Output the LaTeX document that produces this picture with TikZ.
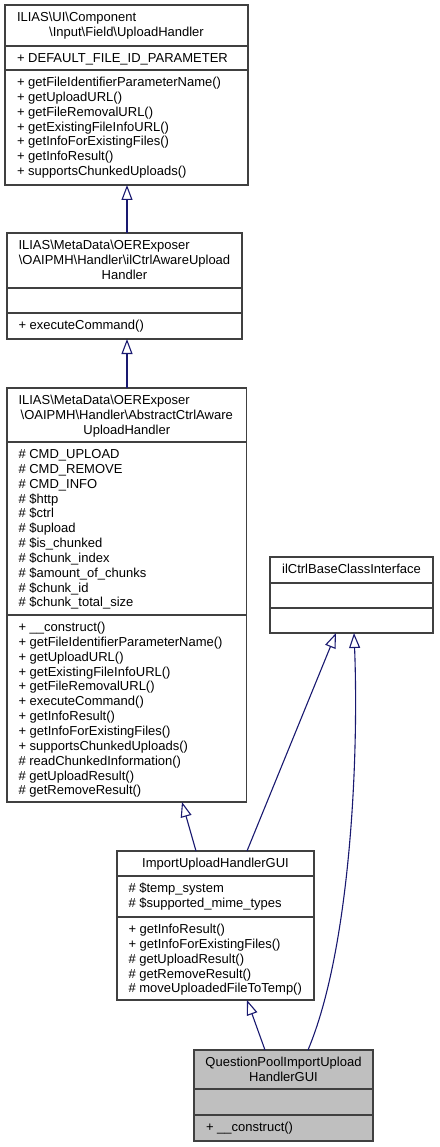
\documentclass[tikz,border=0pt]{standalone}
\usepackage{fontspec}
\setmainfont{Liberation Sans}
\usetikzlibrary{arrows.meta}
\definecolor{boxgray}{HTML}{404040}
\definecolor{edgeblue}{HTML}{191970}
\definecolor{focusfill}{HTML}{BFBFBF}
\newcommand\fsz{\fontsize{13}{14.85}\selectfont}
\newcommand\mlines[1]{\begin{tabular}{@{}l@{}}#1\end{tabular}}
\newcommand\bs{\textbackslash}
\tikzset{
  cls/.style={draw=boxgray, line width=1.3pt, fill=white, inner sep=0pt, outer sep=0pt, anchor=north west},
  div/.style={draw=boxgray, line width=1.3pt},
  sec/.style={inner sep=0pt, outer sep=0pt, anchor=north west, font=\fsz},
  ttl/.style={inner sep=0pt, outer sep=0pt, font=\fsz},
  inh/.style={draw=edgeblue, line width=1.1pt, -{Triangle[open,length=15pt,width=11pt]}},
}
\begin{document}
\begin{tikzpicture}[x=1pt,y=-1pt]
\useasboundingbox (0,0) rectangle (439,1147);

% ---------- Box 1 ----------
\node[cls, minimum width=243pt, minimum height=180pt] (b1) at (5,5) {};
\draw[div] (5,46) -- (248,46);
\draw[div] (5,70) -- (248,70);
\node[ttl, anchor=base west] (b1t1) at (17,21.5) {ILIAS\bs UI\bs Component};
\node[ttl, anchor=base] (b1t2) at (126.5,36.35) {\bs Input\bs Field\bs UploadHandler};
\node[sec] (b1a) at (17,52.1) {\mlines{+ DEFAULT\_FILE\_ID\_PARAMETER}};
\node[sec] (b1m) at (17,76.1) {\mlines{+ getFileIdentifierParameterName()\\
+ getUploadURL()\\
+ getFileRemovalURL()\\
+ getExistingFileInfoURL()\\
+ getInfoForExistingFiles()\\
+ getInfoResult()\\
+ supportsChunkedUploads()}};

% ---------- Box 2 ----------
\node[cls, minimum width=235pt, minimum height=106pt] (b2) at (7,233) {};
\draw[div] (7,288) -- (242,288);
\draw[div] (7,313) -- (242,313);
\node[ttl, anchor=base west] (b2t1) at (18.5,249.5) {ILIAS\bs MetaData\bs OERExposer};
\node[ttl, anchor=base] (b2t2) at (124.5,264.35) {\bs OAIPMH\bs Handler\bs ilCtrlAwareUpload};
\node[ttl, anchor=base] (b2t3) at (124.5,279.2) {Handler};
\node[sec] (b2m) at (18.5,319.1) {\mlines{+ executeCommand()}};

% ---------- Box 3 ----------
\node[cls, minimum width=239.5pt, minimum height=414pt] (b3) at (7,388) {};
\draw[div] (7,442) -- (246.5,442);
\draw[div] (7,615) -- (246.5,615);
\node[ttl, anchor=base west] (b3t1) at (18.5,404.5) {ILIAS\bs MetaData\bs OERExposer};
\node[ttl, anchor=base] (b3t2) at (126.75,419.35) {\bs OAIPMH\bs Handler\bs AbstractCtrlAware};
\node[ttl, anchor=base] (b3t3) at (126.75,434.2) {UploadHandler};
\node[sec] (b3a) at (18.5,448.1) {\mlines{\# CMD\_UPLOAD\\
\# CMD\_REMOVE\\
\# CMD\_INFO\\
\# \$http\\
\# \$ctrl\\
\# \$upload\\
\# \$is\_chunked\\
\# \$chunk\_index\\
\# \$amount\_of\_chunks\\
\# \$chunk\_id\\
\# \$chunk\_total\_size}};
\node[sec] (b3m) at (18.5,621.1) {\mlines{+ \_\_construct()\\
+ getFileIdentifierParameterName()\\
+ getUploadURL()\\
+ getExistingFileInfoURL()\\
+ getFileRemovalURL()\\
+ executeCommand()\\
+ getInfoResult()\\
+ getInfoForExistingFiles()\\
+ supportsChunkedUploads()\\
\# readChunkedInformation()\\
\# getUploadResult()\\
\# getRemoveResult()}};

% ---------- Box 4 ----------
\node[cls, minimum width=163pt, minimum height=76pt] (b4) at (270,557) {};
\draw[div] (270,583) -- (433,583);
\draw[div] (270,608) -- (433,608);
\node[ttl, anchor=base] (b4t) at (351.5,573.5) {ilCtrlBaseClassInterface};

% ---------- Box 5 ----------
\node[cls, minimum width=197pt, minimum height=149pt] (b5) at (117,851) {};
\draw[div] (117,876) -- (314,876);
\draw[div] (117,917) -- (314,917);
\node[ttl, anchor=base] (b5t) at (215.5,867.5) {ImportUploadHandlerGUI};
\node[sec] (b5a) at (128.5,882.1) {\mlines{\# \$temp\_system\\
\# \$supported\_mime\_types}};
\node[sec] (b5m) at (128.5,923.1) {\mlines{+ getInfoResult()\\
+ getInfoForExistingFiles()\\
\# getUploadResult()\\
\# getRemoveResult()\\
\# moveUploadedFileToTemp()}};

% ---------- Box 6 ----------
\node[cls, fill=focusfill, minimum width=179pt, minimum height=91pt] (b6) at (194,1050) {};
\draw[div] (194,1089) -- (373,1089);
\draw[div] (194,1115) -- (373,1115);
\node[ttl, anchor=base] (b6t1) at (283.5,1066.5) {QuestionPoolImportUpload};
\node[ttl, anchor=base] (b6t2) at (283.5,1081.35) {HandlerGUI};
\node[sec] (b6m) at (206,1121.1) {\mlines{+ \_\_construct()}};

% ---------- Connectors ----------
\draw[inh] ([xshift=2.5pt]b2.north) -- ([xshift=0.5pt]b1.south);
\draw[inh] ([xshift=0.25pt]b3.north) -- ([xshift=2.5pt]b2.south);
\draw[inh] ([xshift=79pt]b5.north west) -- ([xshift=175pt]b3.south west);
\draw[inh] ([xshift=130pt]b5.north west) -- ([xshift=66pt]b4.south west);
\draw[inh] ([xshift=71pt]b6.north west) -- ([xshift=130pt]b5.south west);
\draw[inh] ([xshift=114pt]b6.north west) .. controls (350,950) and (359,760) .. ([xshift=84pt]b4.south west);
\end{tikzpicture}
\end{document}
